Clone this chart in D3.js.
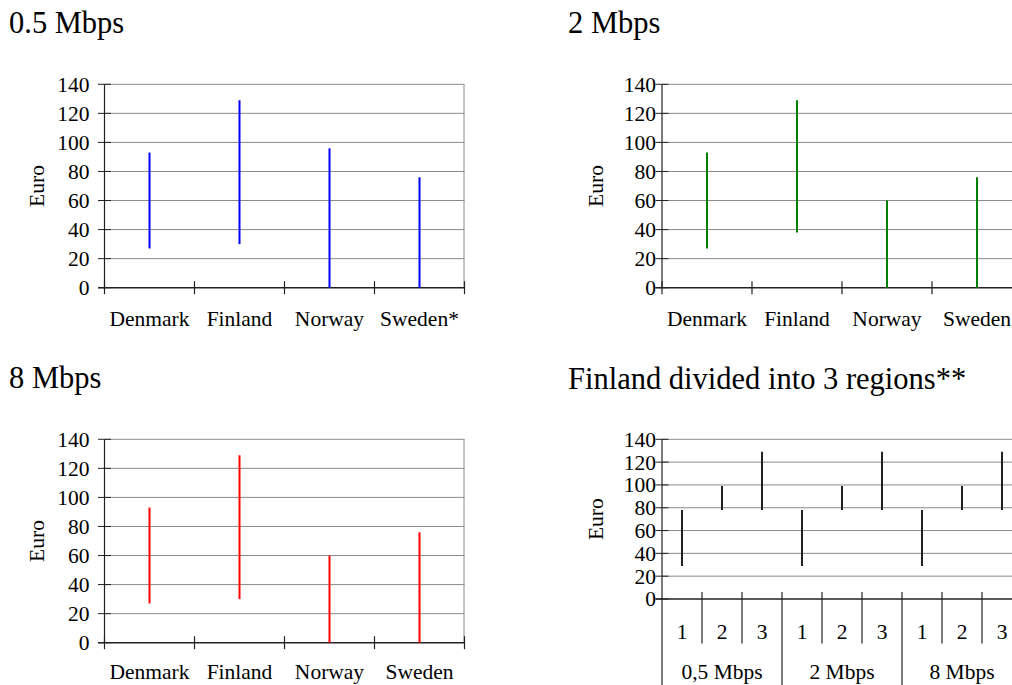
<!DOCTYPE html>
<html>
<head>
<meta charset="utf-8">
<script src="https://cdn.jsdelivr.net/npm/d3@7/dist/d3.min.js"></script>
<style>
  html, body { margin: 0; padding: 0; background: #fff; }
  svg text { font-family: 'Liberation Serif', 'DejaVu Serif', 'Times New Roman', Times, serif !important; }
</style>
</head>
<body>
<svg id="chart" width="1012" height="685"></svg>
<script>
// ---- data ----
const countries1 = ["Denmark", "Finland", "Norway", "Sweden*"];
const countries = ["Denmark", "Finland", "Norway", "Sweden"];
const low05 = [27, 30, 0, 0];
const high05 = [93, 129, 96, 76];
const low2 = [27, 38, 0, 0];
const high2 = [93, 129, 60, 76];
const low8 = [27, 30, 0, 0];
const high8 = [93, 129, 60, 76];
const regions = ["1", "2", "3"];
const speeds = ["0,5 Mbps", "2 Mbps", "8 Mbps"];
const finLow = [29, 78, 78, 29, 78, 78, 29, 78, 78];
const finHigh = [78, 99, 129, 78, 99, 129, 78, 99, 129];
const yTicks = [0, 20, 40, 60, 80, 100, 120, 140];
const titles = ["0.5 Mbps", "2 Mbps", "8 Mbps", "Finland divided into 3 regions**"];

const svg = d3.select("#chart");
const GRID = "#8a8a8a", AXIS = "#222", FS = "21.5px", TFS = "30.5px";

function panel(cfg) {
  const g = svg.append("g");
  const n = cfg.cats.length;
  const x = d3.scaleBand().domain(d3.range(n)).range([cfg.x0, cfg.x0 + n * cfg.bw]).paddingInner(0).paddingOuter(0);
  const y = d3.scaleLinear().domain([0, 140]).range([cfg.zero, cfg.top]);
  const x1 = cfg.x0 + n * cfg.bw;

  // title
  svg.append("text").attr("x", cfg.tx).attr("y", cfg.ty).attr("font-size", TFS).attr("fill", "#000").text(cfg.title);

  // gridlines
  g.selectAll(".grid").data(yTicks.filter(d => d > 0)).enter().append("line")
    .attr("x1", cfg.x0).attr("x2", x1).attr("y1", d => y(d)).attr("y2", d => y(d))
    .attr("stroke", GRID).attr("stroke-width", 1);
  // right border
  g.append("line").attr("x1", x1 - 0.5).attr("x2", x1 - 0.5).attr("y1", y(140)).attr("y2", y(0))
    .attr("stroke", GRID).attr("stroke-width", 1);

  // y axis labels via d3 axis
  const ya = g.append("g").attr("transform", `translate(${cfg.x0},0)`)
    .call(d3.axisLeft(y).tickValues(yTicks).tickSize(0).tickPadding(cfg.pad));
  ya.attr("font-family", null);
  ya.select(".domain").remove();
  ya.selectAll("text").attr("font-size", FS).attr("fill", "#000");

  // y ticks crossing
  g.selectAll(".yt").data(yTicks).enter().append("line")
    .attr("x1", cfg.x0 - 6.5).attr("x2", cfg.x0 + 6.5).attr("y1", d => y(d)).attr("y2", d => y(d))
    .attr("stroke", AXIS).attr("stroke-width", 1);
  // y axis line
  g.append("line").attr("x1", cfg.x0).attr("x2", cfg.x0).attr("y1", y(140)).attr("y2", cfg.axisBottom || y(0))
    .attr("stroke", AXIS).attr("stroke-width", 1.2);
  // zero line
  g.append("line").attr("x1", cfg.x0 - 6.5).attr("x2", x1).attr("y1", y(0)).attr("y2", y(0))
    .attr("stroke", AXIS).attr("stroke-width", 1.5);

  // data marks
  g.selectAll(".mark").data(cfg.cats.map((c, i) => ({ i, lo: cfg.lo[i], hi: cfg.hi[i] }))).enter().append("line")
    .attr("x1", d => x(d.i) + x.bandwidth() / 2).attr("x2", d => x(d.i) + x.bandwidth() / 2)
    .attr("y1", d => y(d.lo)).attr("y2", d => y(d.hi))
    .attr("stroke", cfg.color).attr("stroke-width", 2);

  return { g, x, y, x1 };
}

function countryPanel(cfg) {
  const p = panel(cfg);
  const { g, x, y } = p;
  const bounds = d3.range(cfg.cats.length + 1).map(i => cfg.x0 + i * cfg.bw);
  g.selectAll(".xt").data(bounds).enter().append("line")
    .attr("x1", d => d).attr("x2", d => d).attr("y1", y(0) - 6.5).attr("y2", y(0) + 6.5)
    .attr("stroke", AXIS).attr("stroke-width", 1.2);
  g.selectAll(".xl").data(cfg.cats).enter().append("text")
    .attr("x", (d, i) => x(i) + x.bandwidth() / 2).attr("y", Math.min(y(0) + 38, 679))
    .attr("text-anchor", "middle").attr("font-size", FS).attr("fill", "#000").text(d => d);
  g.append("text").attr("transform", `translate(${cfg.ex},${(y(0) + y(140)) / 2}) rotate(-90)`)
    .attr("text-anchor", "middle").attr("dy", "0.35em").attr("font-size", FS).attr("fill", "#000").text("Euro");
}

countryPanel({ cats: countries1, lo: low05, hi: high05, color: "#0000ff", x0: 104.5, bw: 90, top: 84.3, zero: 287.7, pad: 15, ex: 36, title: titles[0], tx: 9, ty: 33 });
countryPanel({ cats: countries, lo: low2, hi: high2, color: "#008000", x0: 662, bw: 90, top: 84.3, zero: 287.7, pad: 6, ex: 595, title: titles[1], tx: 568, ty: 33 });
countryPanel({ cats: countries, lo: low8, hi: high8, color: "#ff0000", x0: 104.5, bw: 90, top: 439.3, zero: 642.7, pad: 15, ex: 36, title: titles[2], tx: 9, ty: 388 });

// Finland panel
(function () {
  const cats = d3.merge(speeds.map(s => regions.map(r => s + "|" + r)));
  const cfg = { cats, lo: finLow, hi: finHigh, color: "#222", x0: 662, bw: 40, top: 439.3, zero: 599, pad: 6, axisBottom: 685, title: titles[3], tx: 568, ty: 389 };
  const p = panel(cfg);
  const { g, x, y } = p;
  const bounds = d3.range(1, cats.length + 1).map(i => ({ xv: cfg.x0 + i * cfg.bw, group: i % 3 === 0 }));
  g.selectAll(".xt").data(bounds).enter().append("line")
    .attr("x1", d => d.xv).attr("x2", d => d.xv).attr("y1", y(0) - 7)
    .attr("y2", d => d.group ? 685 : 643.5)
    .attr("stroke", AXIS).attr("stroke-width", 1.2);
  g.selectAll(".xl").data(cats).enter().append("text")
    .attr("x", (d, i) => x(i) + x.bandwidth() / 2).attr("y", 639)
    .attr("text-anchor", "middle").attr("font-size", FS).attr("fill", "#000").text(d => d.split("|")[1]);
  g.selectAll(".gl").data(speeds).enter().append("text")
    .attr("x", (d, i) => cfg.x0 + (i * 3 + 1.5) * cfg.bw).attr("y", 679)
    .attr("text-anchor", "middle").attr("font-size", FS).attr("fill", "#000").text(d => d);
  g.append("text").attr("transform", `translate(595,${(y(0) + y(140)) / 2}) rotate(-90)`)
    .attr("text-anchor", "middle").attr("dy", "0.35em").attr("font-size", FS).attr("fill", "#000").text("Euro");
})();
</script>
</body>
</html>
